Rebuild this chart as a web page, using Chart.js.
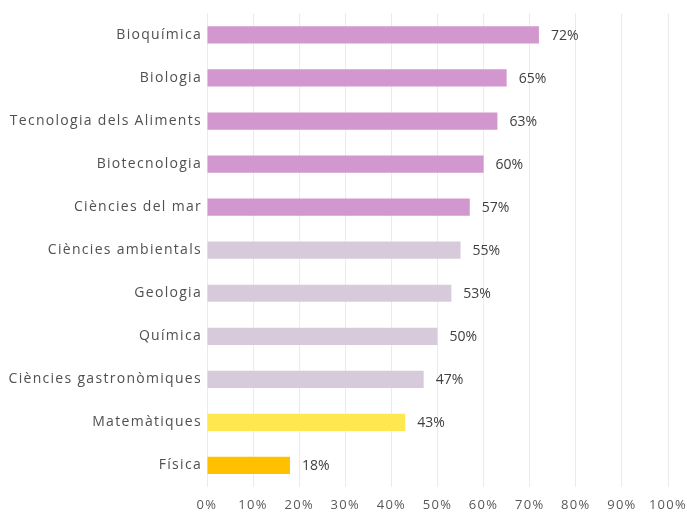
<!DOCTYPE html>
<html lang="ca">
<head>
<meta charset="utf-8">
<title>Graus</title>
<script src="https://cdn.jsdelivr.net/npm/chart.js@4.4.1/dist/chart.umd.min.js"></script>
<style>
    html, body { margin: 0; padding: 0; background: #fff; }
    #wrap { width: 687px; height: 516px; }
</style>
</head>
<body>
<div id="wrap"><canvas id="grafic"></canvas></div>
<script>
const graus = [
    'Bioquímica', 'Biologia', 'Tecnologia dels Aliments', 'Biotecnologia',
    'Ciències del mar', 'Ciències ambientals', 'Geologia', 'Química',
    'Ciències gastronòmiques', 'Matemàtiques', 'Física'
];
const percentatges = [72, 65, 63, 60, 57, 55, 53, 50, 47, 43, 18];
const colors = [
    '#D397CF', '#D397CF', '#D397CF', '#D397CF', '#D397CF',
    '#D7CBDB', '#D7CBDB', '#D7CBDB', '#D7CBDB',
    '#FFE84F', '#FFC000'
];
const ticksX = [0, 10, 20, 30, 40, 50, 60, 70, 80, 90, 100];

const FONT = "'Open Sans', sans-serif";

// espaiat de lletres a tot el canvas (es perd quan es redimensiona)
const espaiat = {
    id: 'espaiat',
    beforeUpdate(chart) { chart.ctx.letterSpacing = '1.3px'; },
    beforeDraw(chart) { chart.ctx.letterSpacing = '1.3px'; }
};

// etiquetes de valor a la dreta de cada barra
const etiquetes = {
    id: 'etiquetes',
    afterDatasetsDraw(chart) {
        const ctx = chart.ctx;
        const meta = chart.getDatasetMeta(0);
        ctx.save();
        ctx.letterSpacing = '0px';
        ctx.font = '14px ' + FONT;
        ctx.fillStyle = '#404040';
        ctx.textAlign = 'left';
        ctx.textBaseline = 'middle';
        meta.data.forEach((bar, i) => {
            ctx.fillText(percentatges[i] + '%', bar.x + 12, bar.y + 1);
        });
        ctx.restore();
    }
};

const ctx = document.getElementById('grafic').getContext('2d');
new Chart(ctx, {
    type: 'bar',
    data: {
        labels: graus,
        datasets: [{
            data: percentatges,
            backgroundColor: colors,
            borderWidth: 0,
            barPercentage: 1,
            categoryPercentage: 0.4
        }]
    },
    options: {
        indexAxis: 'y',
        responsive: true,
        maintainAspectRatio: false,
        animation: false,
        layout: { padding: { top: 13, right: 19, bottom: 0, left: 0 } },
        plugins: {
            legend: { display: false },
            tooltip: { enabled: false }
        },
        scales: {
            x: {
                min: 0,
                max: 100,
                afterBuildTicks(scale) {
                    scale.ticks = ticksX.map(v => ({ value: v }));
                },
                afterFit(scale) {
                    scale.height = 29;
                    scale.paddingLeft = 0;
                    scale.paddingRight = 0;
                },
                grid: { color: '#EBEBEB', lineWidth: 1, drawTicks: false },
                border: { display: false },
                ticks: {
                    padding: 10,
                    color: '#595959',
                    font: { family: FONT, size: 13 },
                    callback: v => v + '%'
                }
            },
            y: {
                afterFit(scale) { scale.width = 207; },
                grid: { display: false, drawTicks: false },
                border: { display: false },
                ticks: {
                    padding: 5,
                    color: '#505050',
                    font: { family: FONT, size: 14 }
                }
            }
        }
    },
    plugins: [espaiat, etiquetes]
});
</script>
</body>
</html>
